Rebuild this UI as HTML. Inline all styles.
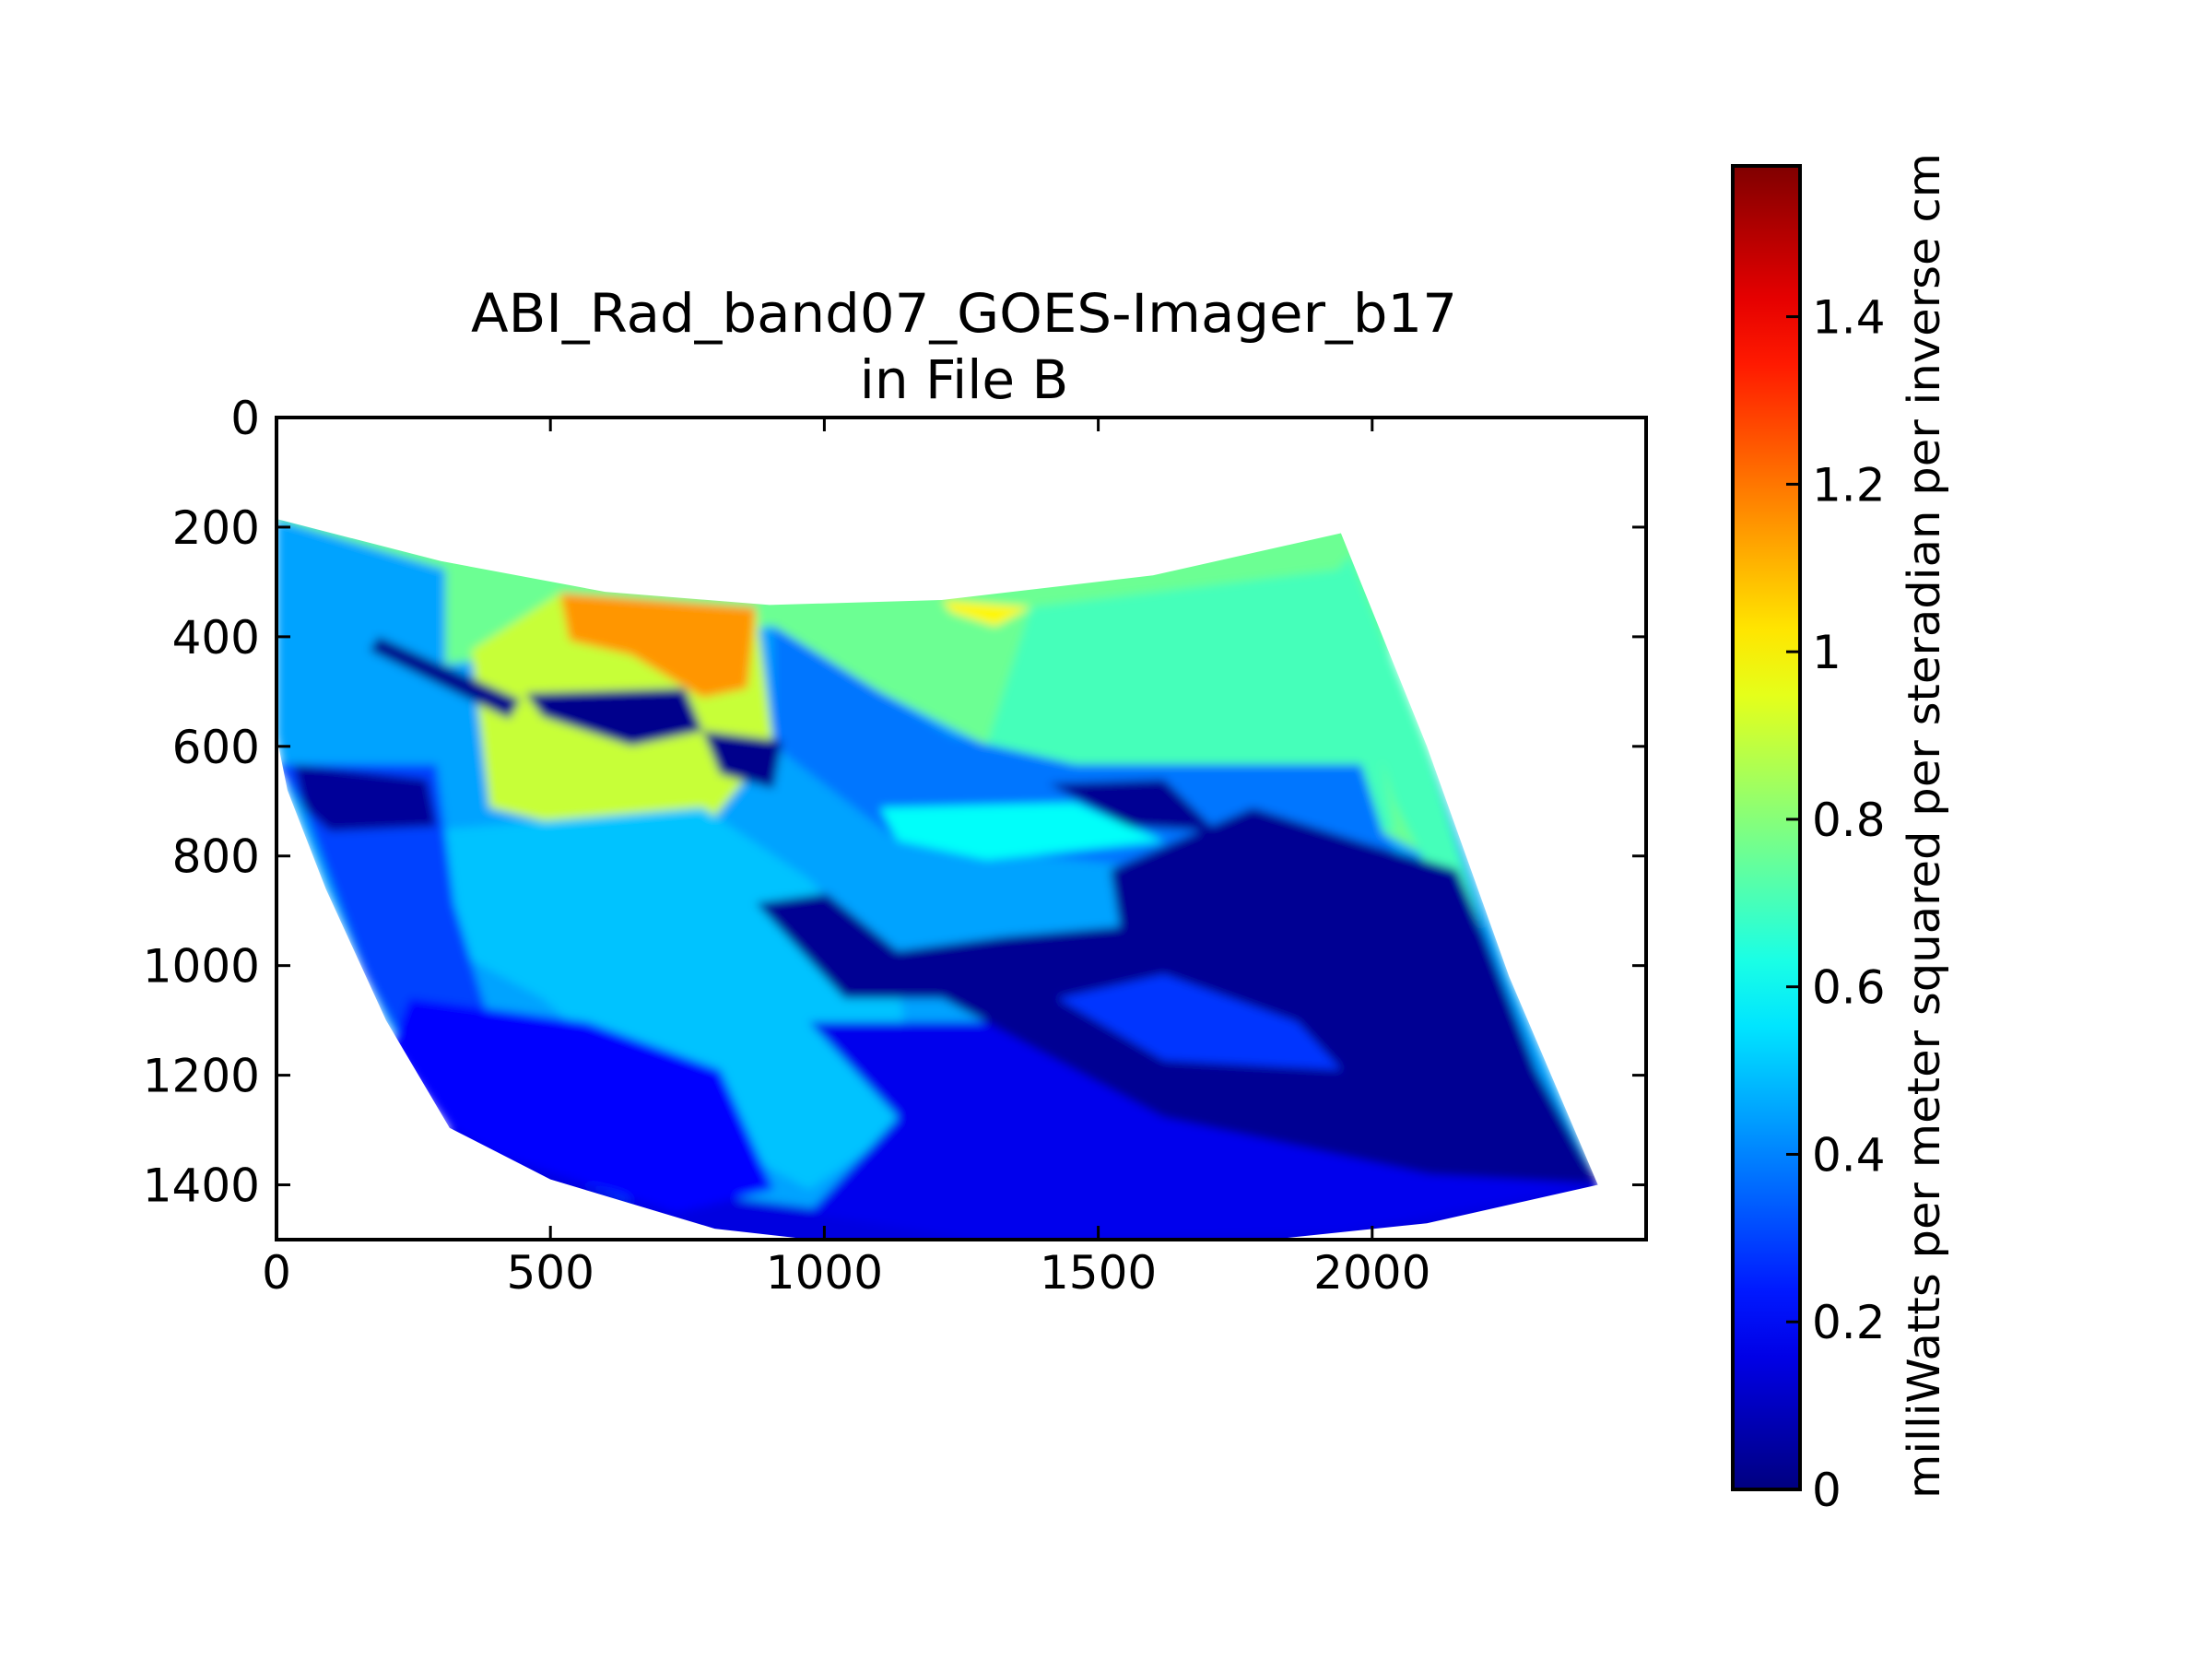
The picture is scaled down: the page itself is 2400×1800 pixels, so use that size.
<!DOCTYPE html>
<html><head><meta charset="utf-8"><style>
html,body{margin:0;padding:0;background:#fff;}
svg{display:block;font-family:"DejaVu Sans","Liberation Sans",sans-serif;}
</style></head><body>
<svg id="chart" width="2400" height="1800" viewBox="0 0 2400 1800" xmlns="http://www.w3.org/2000/svg">
<defs>
<clipPath id="earthClip"><path id="clipPath0" d=""/></clipPath>
<clipPath id="axClip"><rect x="300" y="453" width="1486" height="892"/></clipPath>
<filter id="soft" x="-5%" y="-5%" width="110%" height="110%"><feGaussianBlur stdDeviation="5"/></filter>
<linearGradient id="jetGrad" x1="0" y1="1" x2="0" y2="0"></linearGradient>
</defs>
<text x="1046" y="360" font-size="58" text-anchor="middle" textLength="1070" lengthAdjust="spacingAndGlyphs">ABI_Rad_band07_GOES-Imager_b17</text>
<text x="1046" y="432" font-size="58" text-anchor="middle">in File B</text>
<g id="imageLayer" clip-path="url(#axClip)"><g clip-path="url(#earthClip)"><g id="regions" filter="url(#soft)"></g></g></g>
<rect x="300" y="453" width="1486" height="892" fill="none" stroke="#000" stroke-width="4"/>
<g id="axes"></g>
<rect id="cbar" x="1880" y="180" width="73" height="1436" fill="url(#jetGrad)" stroke="#000" stroke-width="4"/>
<g id="cbarTicks"></g>
<text transform="translate(2104,896) rotate(-90)" font-size="48" text-anchor="middle" textLength="1460" lengthAdjust="spacingAndGlyphs">milliWatts per meter squared per steradian per inverse cm</text>
</svg>
<script>
const xTicks=[0,500,1000,1500,2000];
const yTicks=[0,200,400,600,800,1000,1200,1400];
const cbTicks=[0,0.2,0.4,0.6,0.8,1,1.2,1.4];
const cbTickLabels=["0","0.2","0.4","0.6","0.8","1","1.2","1.4"];
const vMax=1.58;
const outline=[[0,185],[300,262],[600,318],[900,342],[1214,333],[1600,288],[1943,211],[2100,600],[2250,1020],[2412,1400],[2100,1470],[1700,1512],[1200,1525],[800,1480],[500,1390],[316,1296],[200,1100],[90,860],[20,680],[0,581]];
const baseValue=0.45;
const regionValues=[0.76,0.45,0.7,0.38,0.7,0.9,1.15,1.0,0.5,0.15,0.3,0.04,0.2,0.17,0.03,0.28,0.02,0.02,0.02,0.03,0.6];
const regionShapes=[
[[0,150],[2000,150],[2060,640],[2203,938],[2100,800],[1800,640],[1300,600],[1100,500],[907,380],[600,420],[308,450],[0,450]],
[[0,185],[308,277],[308,625],[49,712],[0,581]],
[[1377,346],[1944,277],[2009,581],[2041,755],[1458,703],[1296,598]],
[[907,381],[1231,581],[1458,633],[1980,633],[2020,760],[2120,900],[1782,842],[1134,772],[907,598]],
[[1960,250],[2100,600],[2210,960],[2140,900],[2040,700],[1920,300]],
[[518,320],[875,346],[907,598],[778,755],[567,755],[389,712],[356,424]],
[[518,320],[875,346],[859,494],[778,511],[648,433],[535,407]],
[[1215,333],[1377,346],[1312,381],[1231,355]],
[[259,755],[778,712],[972,842],[1134,1016],[1166,1277],[972,1408],[729,1277],[486,1060],[243,929]],
[[316,1296],[800,1420],[1200,1470],[2412,1400],[2412,1600],[300,1600]],
[[0,633],[292,633],[324,886],[389,1103],[648,1434],[316,1296],[162,1017],[49,712]],
[[32,633],[275,660],[292,746],[97,755],[49,712]],
[[243,1060],[567,1103],[810,1190],[907,1408],[729,1451],[405,1347],[316,1296],[211,1147]],
[[972,1103],[1458,1103],[1944,1234],[2414,1399],[1944,1486],[1296,1503],[972,1451],[1134,1277]],
[[1522,825],[1782,712],[1976,773],[2155,825],[2203,938],[2300,1190],[2414,1399],[2106,1381],[1620,1277],[1377,1147],[1215,1060],[1037,1060],[875,886],[1004,868],[1134,973],[1328,947],[1539,929]],
[[1426,1060],[1620,1016],[1863,1103],[1944,1190],[1620,1173]],
[[186,400],[445,515],[425,550],[170,425]],
[[454,503],[745,494],[778,572],[648,599],[486,546]],
[[778,572],[923,590],[907,677],[810,651]],
[[1409,668],[1620,660],[1717,755],[1555,746]],
[[1102,712],[1458,703],[1620,773],[1296,807],[1134,772]]
];
const NS='http://www.w3.org/2000/svg';
function X(v){return 300+v*1486/2500;}
function Y(v){return 453+v*892/1500;}
function cbY(v){return 1616-v*1436/vMax;}
function jet(t){
  t=Math.max(0,Math.min(1,t));
  const f=x=>Math.round(255*Math.max(0,Math.min(1,x)));
  return 'rgb('+f(Math.min(4*t-1.5,-4*t+4.5))+','+f(Math.min(4*t-0.5,-4*t+3.5))+','+f(Math.min(4*t+0.5,-4*t+2.5))+')';
}
function pathOf(pts){return 'M'+pts.map(p=>X(p[0]).toFixed(1)+','+Y(p[1]).toFixed(1)).join('L')+'Z';}
document.getElementById('clipPath0').setAttribute('d',pathOf(outline));
const reg=document.getElementById('regions');
const base=document.createElementNS(NS,'path');
base.setAttribute('d',pathOf(outline));
base.setAttribute('fill',jet(baseValue/vMax));


reg.appendChild(base);
regionShapes.forEach((s,i)=>{
  const p=document.createElementNS(NS,'path');
  p.setAttribute('d',pathOf(s));
  p.setAttribute('fill',jet(regionValues[i]/vMax));
  
  
  reg.appendChild(p);
});
const g=document.getElementById('jetGrad');
for(let i=0;i<=20;i++){
  const st=document.createElementNS(NS,'stop');
  st.setAttribute('offset',(i/20));
  st.setAttribute('stop-color',jet(i/20));
  g.appendChild(st);
}
const ax=document.getElementById('axes');
function line(x1,y1,x2,y2,name){
  const l=document.createElementNS(NS,'line');
  l.setAttribute('x1',x1);l.setAttribute('y1',y1);l.setAttribute('x2',x2);l.setAttribute('y2',y2);
  l.setAttribute('stroke','#000');l.setAttribute('stroke-width','3');
  
  
  return l;
}
function text(x,y,s,anchor,name,size){
  const t=document.createElementNS(NS,'text');
  t.setAttribute('x',x);t.setAttribute('y',y);t.setAttribute('font-size',size||50);
  t.setAttribute('text-anchor',anchor);t.textContent=s;
  
  
  return t;
}
xTicks.forEach(v=>{
  const x=X(v);
  ax.appendChild(line(x,1345,x,1330,'x-tick'));
  ax.appendChild(line(x,453,x,468,'x-tick-top'));
  ax.appendChild(text(x,1398,String(v),'middle','x-tick-label'));
});
yTicks.forEach(v=>{
  const y=Y(v);
  ax.appendChild(line(300,y,315,y,'y-tick'));
  ax.appendChild(line(1786,y,1771,y,'y-tick-right'));
  ax.appendChild(text(282,y+18,String(v),'end','y-tick-label'));
});
const cb=document.getElementById('cbarTicks');
cbTicks.forEach((v,i)=>{
  const y=cbY(v);
  cb.appendChild(line(1953,y,1938,y,'colorbar-tick'));
  cb.appendChild(text(1966,y+18,cbTickLabels[i],'start','colorbar-tick-label'));
});
</script>
</body></html>
